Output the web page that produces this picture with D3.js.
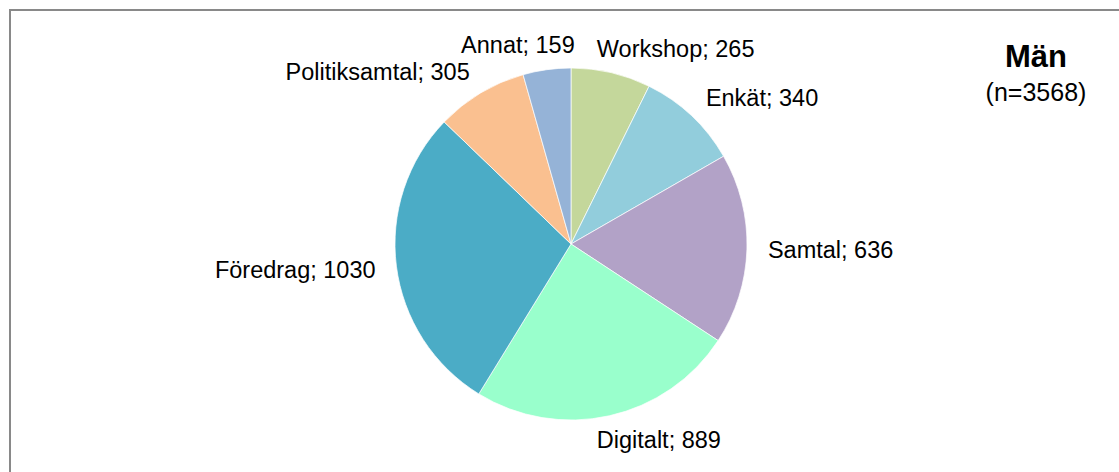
<!DOCTYPE html>
<html>
<head>
<meta charset="utf-8">
<script src="https://cdn.jsdelivr.net/npm/d3@7"></script>
<style>
  body { margin: 0; background: #fff; }
  svg { display: block; font-family: "Liberation Sans", Arial, sans-serif; }
</style>
</head>
<body>
<div id="chart"></div>
<script>
// Data
const categories = ["Workshop", "Enkät", "Samtal", "Digitalt", "Föredrag", "Politiksamtal", "Annat"];
const values = [265, 340, 636, 889, 1030, 305, 159];
const title = "Män";
const subtitle = "(n=3568)";

const width = 1119, height = 472;

const svg = d3.select("#chart")
  .append("svg")
    .attr("width", width)
    .attr("height", height);

// Chart area border (only top and left edges are inside the picture)
svg.append("path")
    .attr("d", `M10,${height + 5} L10,10 L${width + 5},10`)
    .attr("fill", "none")
    .attr("stroke", "#898989")
    .attr("stroke-width", 2);

const cx = 571, cy = 244, radius = 176;

const color = d3.scaleOrdinal()
    .domain(categories)
    .range(["#c4d79b", "#92cddc", "#b2a2c7", "#99ffcc", "#4bacc6", "#fac090", "#95b3d7"]);

const pie = d3.pie().sort(null).value(d => d.value);
const arcs = pie(categories.map((c, i) => ({name: c, value: values[i]})));

const arc = d3.arc().innerRadius(0).outerRadius(radius);

const g = svg.append("g")
    .attr("transform", `translate(${cx}, ${cy})`);

g.selectAll("path.slice")
  .data(arcs)
  .join("path")
    .attr("class", "slice")
    .attr("d", arc)
    .attr("fill", d => color(d.data.name))
    .attr("stroke", "#fff")
    .attr("stroke-width", 0.7);

// Outside-end labels: box pushed outwards along the slice's mid angle,
// slides towards centred when the slice points nearly straight up/down
const labelRx = radius + 21, labelRy = radius + 25;
g.selectAll("text.label")
  .data(arcs)
  .join("text")
    .attr("class", "label")
    .style("font-size", "23.5px")
    .attr("fill", "#000")
    .attr("text-anchor", "middle")
    .attr("dy", "0.35em")
    .text(d => `${d.data.name}; ${d.data.value}`)
    .each(function(d) {
      const a = (d.startAngle + d.endAngle) / 2;
      const s = Math.sin(a), c = Math.cos(a);
      const halfW = this.getComputedTextLength() / 2;
      const f = Math.min(1, Math.abs(s) / 0.3);
      d3.select(this)
        .attr("x", labelRx * s + Math.sign(s) * halfW * f)
        .attr("y", -labelRy * c);
    });

// Title
svg.append("text")
    .attr("x", 1036)
    .attr("y", 67)
    .attr("text-anchor", "middle")
    .style("font-size", "31px")
    .style("font-weight", "bold")
    .text(title);

svg.append("text")
    .attr("x", 1036)
    .attr("y", 101)
    .attr("text-anchor", "middle")
    .style("font-size", "25px")
    .text(subtitle);
</script>
</body>
</html>
